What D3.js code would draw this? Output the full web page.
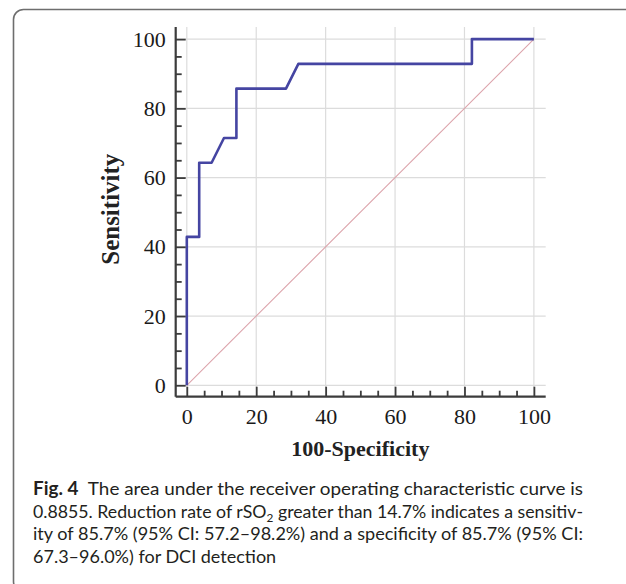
<!DOCTYPE html>
<html>
<head>
<meta charset="utf-8">
<script src="https://cdn.jsdelivr.net/npm/d3@7"></script>
<style>
html,body{margin:0;padding:0;background:#fff;}
svg{display:block;}
</style>
</head>
<body>
<script>
// ROC curve points (100-Specificity, Sensitivity)
const fpr = [0, 0, 3.57, 3.57, 7.14, 10.71, 14.29, 14.29, 28.57, 32.14, 82.14, 82.14, 100];
const tpr = [0, 42.86, 42.86, 64.29, 64.29, 71.43, 71.43, 85.71, 85.71, 92.86, 92.86, 100, 100];
const majorTicks = [0, 20, 40, 60, 80, 100];
const minorTicks = d3.range(0, 101, 5).filter(v => v % 20 !== 0);
const xTitle = "100-Specificity";
const yTitle = "Sensitivity";
const captionLines = [
  [{t: "Fig. 4", b: true}, {t: "\u2002The area under the receiver operating characteristic curve is"}],
  [{t: "0.8855. Reduction rate of rSO"}, {t: "2", sub: true}, {t: " greater than 14.7% indicates a sensitiv-"}],
  [{t: "ity of 85.7% (95% CI: 57.2\u201398.2%) and a specificity of 85.7% (95% CI:"}],
  [{t: "67.3\u201396.0%) for DCI detection"}]
];

const W = 626, H = 584;
const svg = d3.select("body").append("svg").attr("width", W).attr("height", H);

// figure frame
svg.append("rect").attr("x", 13.5).attr("y", 9.5).attr("width", 700).attr("height", 582)
  .attr("rx", 10).attr("fill", "none").attr("stroke", "#6e6e6e").attr("stroke-width", 1.6);

const x = d3.scaleLinear().domain([-3.2, 103.4]).range([175.7, 545.7]);
const y = d3.scaleLinear().domain([-3.3, 103.5]).range([396.7, 27]);

const serif = "'Liberation Serif','Times New Roman',serif";

// grid
const g = svg.append("g");
g.selectAll(".vg").data(majorTicks).join("line")
  .attr("x1", d => x(d)).attr("x2", d => x(d)).attr("y1", y.range()[1]).attr("y2", y.range()[0])
  .attr("stroke", "#dcdcdc").attr("stroke-width", 1.2);
g.selectAll(".hg").data(majorTicks).join("line")
  .attr("y1", d => y(d)).attr("y2", d => y(d)).attr("x1", x.range()[0]).attr("x2", x.range()[1])
  .attr("stroke", "#dcdcdc").attr("stroke-width", 1.2);

// diagonal
g.append("line").attr("x1", x(0)).attr("y1", y(0)).attr("x2", x(100)).attr("y2", y(100))
  .attr("stroke", "#dca3ab").attr("stroke-width", 1.1);

// ROC curve
const pts = fpr.map((f, i) => [f, tpr[i]]);
g.append("path").datum(pts)
  .attr("d", d3.line().x(d => x(d[0])).y(d => y(d[1])))
  .attr("fill", "none").attr("stroke", "#4545a2").attr("stroke-width", 2.6)
  .attr("stroke-linejoin", "round");

const axisCol = "#3c3c3c";
// Y axis
const yAxis = svg.append("g").attr("transform", `translate(${x.range()[0]},0)`)
  .call(d3.axisLeft(y).tickValues(majorTicks).tickSize(-10).tickPadding(10).tickFormat(d3.format("d")));
const yMinor = svg.append("g").attr("transform", `translate(${x.range()[0]},0)`)
  .call(d3.axisLeft(y).tickValues(minorTicks).tickSize(-6).tickFormat(""));
// X axis
const xAxis = svg.append("g").attr("transform", `translate(0,${y.range()[0]})`)
  .call(d3.axisBottom(x).tickValues(majorTicks).tickSize(-10).tickPadding(12).tickFormat(d3.format("d")));
const xMinor = svg.append("g").attr("transform", `translate(0,${y.range()[0]})`)
  .call(d3.axisBottom(x).tickValues(minorTicks).tickSize(-6).tickFormat(""));

[yAxis, yMinor, xAxis, xMinor].forEach(a => {
  a.select(".domain").attr("stroke", axisCol).attr("stroke-width", 2.2);
  a.selectAll(".tick line").attr("stroke", axisCol).attr("stroke-width", 1.8);
  a.selectAll(".tick text").attr("font-family", serif).attr("font-size", 22).attr("fill", "#1a1a1a");
});
yAxis.select(".domain").attr("d", `M0,${y.range()[1]}V${y.range()[0]}`);
xAxis.select(".domain").attr("d", `M${x.range()[0]},0H${x.range()[1]}`);
yMinor.select(".domain").remove();
xMinor.select(".domain").remove();

// axis titles
svg.append("text").attr("x", (x(0) + x(100)) / 2).attr("y", 456)
  .attr("text-anchor", "middle").attr("font-family", serif).attr("font-size", 22)
  .attr("font-weight", "bold").attr("fill", "#222").text(xTitle);
svg.append("text").attr("transform", `translate(119,${(y(0) + y(100)) / 2 - 3}) rotate(-90)`)
  .attr("text-anchor", "middle").attr("font-family", serif).attr("font-size", 25)
  .attr("font-weight", "bold").attr("fill", "#222").text(yTitle);

// caption
const capX = 33, capW = 550, capY0 = 495, capDY = 22.6;
captionLines.forEach((line, i) => {
  const t = svg.append("text").attr("x", capX).attr("y", capY0 + i * capDY)
    .attr("font-family", "Lato,'Noto Sans',sans-serif").attr("font-size", 18).attr("fill", "#231f20");
  if (i < 3) t.attr("textLength", capW).attr("lengthAdjust", "spacingAndGlyphs");
  line.forEach((s, j) => {
    const ts = t.append("tspan").text(s.t);
    if (s.b) ts.attr("font-weight", "bold");
    if (s.sub) ts.attr("font-size", 12).attr("dy", 4);
    else if (j > 0 && line[j - 1].sub) ts.attr("dy", -4);
  });
});
</script>
</body>
</html>
